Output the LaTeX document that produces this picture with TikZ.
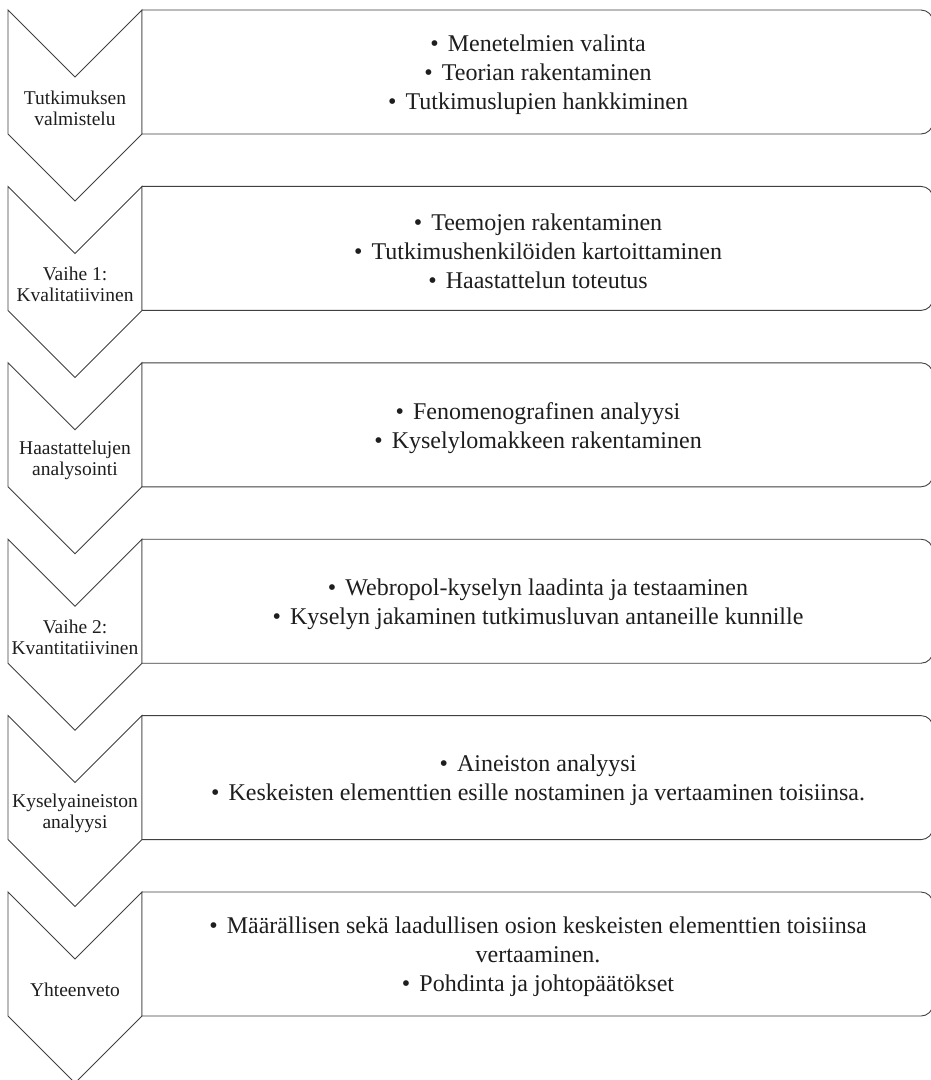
\documentclass[tikz,border=0pt]{standalone}
\usepackage{fontspec}
\setmainfont{Liberation Serif}
\definecolor{edge}{HTML}{404040}
\definecolor{ink}{HTML}{1E1E1E}
\newcommand{\bul}{•\hspace{0.38em}}
\begin{document}
\begin{tikzpicture}[x=1pt,y=-1pt,
  shapeline/.style={draw=edge,line width=0.9pt,fill=white,line join=miter},
  lab/.style={align=center,text=ink,font=\fontsize{19.5}{21}\selectfont,inner sep=0pt},
  items/.style={align=center,text=ink,font=\fontsize{24}{29}\selectfont,inner sep=0pt}]
\clip (0,0) rectangle (931,1080);
\fill[white] (0,0) rectangle (931,1080);
\foreach \i/\lt/\it in {
  0/{Tutkimuksen\\valmistelu}/{\bul Menetelmien valinta\\\bul Teorian rakentaminen\\\bul Tutkimuslupien hankkiminen},
  1/{Vaihe 1:\\Kvalitatiivinen}/{\bul Teemojen rakentaminen\\\bul Tutkimushenkilöiden kartoittaminen\\\bul Haastattelun toteutus},
  2/{Haastattelujen\\analysointi}/{\bul Fenomenografinen analyysi\\\bul Kyselylomakkeen rakentaminen},
  3/{Vaihe 2:\\Kvantitatiivinen}/{\bul Webropol-kyselyn laadinta ja testaaminen\\\bul Kyselyn jakaminen tutkimusluvan antaneille kunnille},
  4/{Kyselyaineiston\\analyysi}/{\bul Aineiston analyysi\\\bul Keskeisten elementtien esille nostaminen ja vertaaminen toisiinsa.},
  5/{Yhteenveto}/{\bul Määrällisen sekä laadullisen osion keskeisten elementtien toisiinsa\\vertaaminen.\\\bul Pohdinta ja johtopäätökset}}{
  \pgfmathsetmacro{\t}{10+176.4*\i}
  % chevron
  \draw[shapeline] (8,\t) -- (75,\t+67) -- (142,\t) -- (142,\t+124) -- (75,\t+191) -- (8,\t+124) -- cycle;
  % box with rounded right corners
  \draw[shapeline] (142,\t+124) -- (142,\t) -- (600,\t) [rounded corners=12pt] -- (933,\t) -- (933,\t+124) -- (600,\t+124) [sharp corners] -- (142,\t+124);
  \node[lab] (lab\i) at (75,\t+98) {\lt};
  \node[items] (items\i) at (538,\t+65) {\it};
}
\end{tikzpicture}
\end{document}
